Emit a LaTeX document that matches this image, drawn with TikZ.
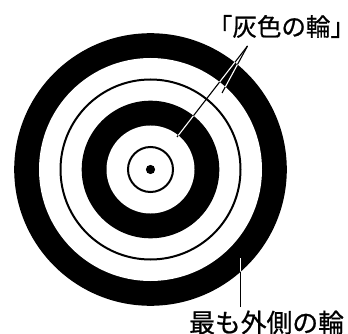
\documentclass[tikz,border=0pt]{standalone}
\usepackage{fontspec}
\newfontfamily\jpfont[FakeBold=0.8]{Noto Sans CJK JP}
\newfontfamily\jpfonthalt[FakeBold=0.8,RawFeature=+halt]{Noto Sans CJK JP}
\begin{document}
\begin{tikzpicture}[x=1pt,y=-1pt,
  lbl/.style={font=\jpfont\fontsize{24.5}{26}\selectfont, inner sep=0pt, anchor=west},
  leader/.style={line width=1.1pt},
  thinring/.style={draw=black, line width=2pt}]
\useasboundingbox (0,0) rectangle (348,334);
\coordinate (c) at (150.5,169.5);
% target rings
\fill[black] (c) circle[radius=136.3];
\fill[white] (c) circle[radius=111.5];
\draw[thinring] (c) circle[radius=90];
\fill[black] (c) circle[radius=68.8];
\fill[white] (c) circle[radius=44];
\draw[thinring] (c) circle[radius=22.5];
\fill[black] (c) circle[radius=4.6];
% labels
\node[lbl, font=\jpfonthalt\fontsize{24.5}{26}\selectfont] (gray) at (220,26.5) {「灰色の輪」};
\node[lbl, font=\jpfont\fontsize{25.8}{27}\selectfont] (outer) at (189,322.5) {最も外側の輪};
% leader coordinates
\coordinate (apex) at (247.5,46);
\coordinate (g1) at (177,137);
\coordinate (g2) at (222,93);
\coordinate (otop) at (240.7,258);
\coordinate (obot) at (240.7,307);
% leaders in black
\draw[leader] (apex) -- (g1);
\draw[leader] (apex) -- (g2);
\draw[leader] (obot) -- (otop);
% white where they cross the black rings
\begin{scope}[even odd rule]
\clip (c) circle[radius=136.3] (c) circle[radius=111.5] (c) circle[radius=68.8] (c) circle[radius=44];
\draw[leader, white] (apex) -- (g1);
\draw[leader, white] (apex) -- (g2);
\draw[leader, white] (obot) -- (otop);
\end{scope}
\end{tikzpicture}
\end{document}
